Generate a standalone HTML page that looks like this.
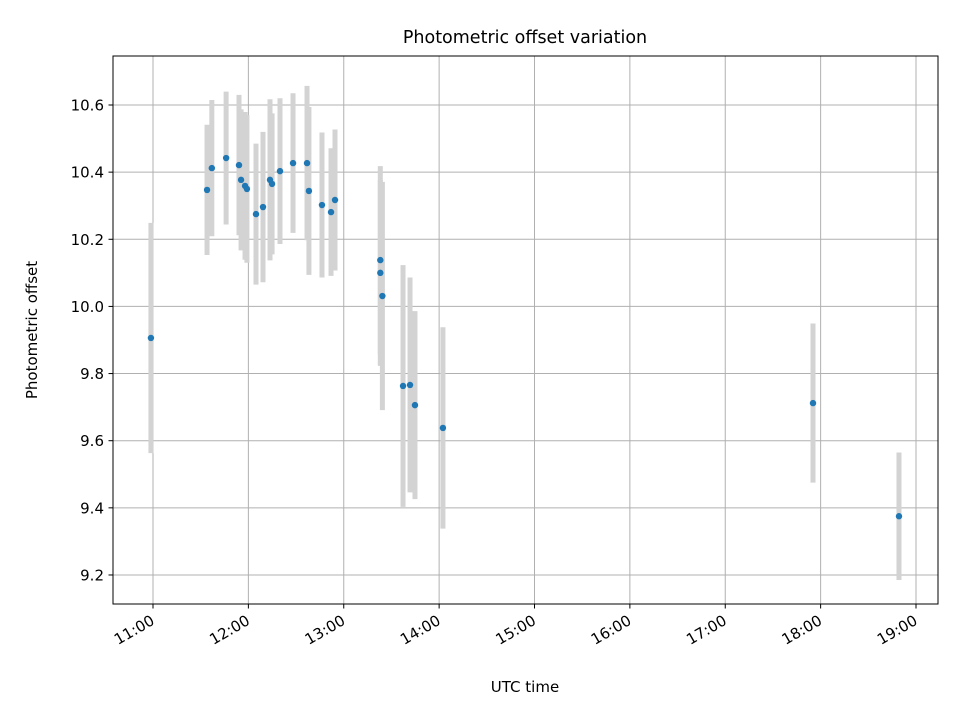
<!DOCTYPE html>
<html><head><meta charset="utf-8"><style>
body{margin:0;background:#fff;}
svg{display:block;font-family:"DejaVu Sans","Liberation Sans",sans-serif;}
</style></head><body>
<svg id="chart" width="960" height="720">
<rect width="960" height="720" fill="#fff"/>
<text x="525" y="43" text-anchor="middle" style="font-size:17.5px" fill="#000">Photometric offset variation</text>
<g id="grid"></g>
<g id="errs"></g>
<g id="pts"></g>
<rect x="113" y="56" width="825" height="548" fill="none" stroke="#000" stroke-width="1"/>
<g id="ticks"></g>
<text x="525" y="692" text-anchor="middle" style="font-size:15px">UTC time</text>
<text transform="translate(37,330) rotate(-90)" text-anchor="middle" style="font-size:15px">Photometric offset</text>
</svg>
<script>
const times=["10:58.7","11:34","11:37","11:46","11:54.1","11:55.4","11:57.9","11:59.1","12:04.8","12:09.2","12:13.6","12:14.9","12:19.9","12:28.1","12:36.9","12:38.1","12:46.3","12:52","12:54.5","13:23","13:23","13:24.3","13:37.3","13:41.7","13:44.8","14:02.4","17:55.2","18:49.3"];
const values=[9.906,10.347,10.412,10.442,10.421,10.377,10.359,10.350,10.275,10.296,10.377,10.365,10.403,10.427,10.427,10.344,10.302,10.281,10.317,10.138,10.100,10.031,9.763,9.766,9.706,9.638,9.712,9.375];
const errors=[0.343,0.194,0.203,0.198,0.209,0.21,0.22,0.22,0.21,0.224,0.24,0.21,0.217,0.208,0.23,0.25,0.216,0.19,0.21,0.28,0.277,0.34,0.36,0.32,0.28,0.30,0.237,0.19];
const xTicks=["11:00","12:00","13:00","14:00","15:00","16:00","17:00","18:00","19:00"];
const yTicks=[9.2,9.4,9.6,9.8,10.0,10.2,10.4,10.6];
const NS="http://www.w3.org/2000/svg";
function hrs(s){const p=s.split(":");return +p[0]+ (+p[1])/60;}
function X(h){return 153+(h-11)*95.375;}
function Y(v){return 105+(10.6-v)*335.7;}
function mk(tag,attrs,parent){const e=document.createElementNS(NS,tag);for(const k in attrs)e.setAttribute(k,attrs[k]);parent.appendChild(e);return e;}
const grid=document.getElementById('grid'),ticks=document.getElementById('ticks'),errs=document.getElementById('errs'),pts=document.getElementById('pts');
xTicks.forEach(t=>{const x=X(hrs(t));
const g=mk('line',{x1:x,x2:x,y1:56,y2:604,stroke:'#b0b0b0','stroke-width':1},grid);


const tk=mk('line',{x1:x,x2:x,y1:604,y2:608.5,stroke:'#000'},ticks);


const tx=mk('text',{transform:`translate(${x-3},614) rotate(-30)`,'text-anchor':'end',style:'font-size:15px',dy:'11'},ticks);
tx.textContent=t;


});
yTicks.forEach(v=>{const y=Y(v);
const g=mk('line',{x1:113,x2:938,y1:y,y2:y,stroke:'#b0b0b0','stroke-width':1},grid);


const tk=mk('line',{x1:108.5,x2:113,y1:y,y2:y,stroke:'#000'},ticks);


const tx=mk('text',{x:104,y:y+5.5,'text-anchor':'end',style:'font-size:15px'},ticks);
tx.textContent=v.toFixed(1);


});
times.forEach((t,i)=>{const x=X(hrs(t));
const l=mk('line',{x1:x,x2:x,y1:Y(values[i]+errors[i]),y2:Y(values[i]-errors[i]),stroke:'#d3d3d3','stroke-width':5},errs);


const c=mk('circle',{cx:x,cy:Y(values[i]),r:3.2,fill:'#1f77b4'},pts);


});
</script>
</body></html>
